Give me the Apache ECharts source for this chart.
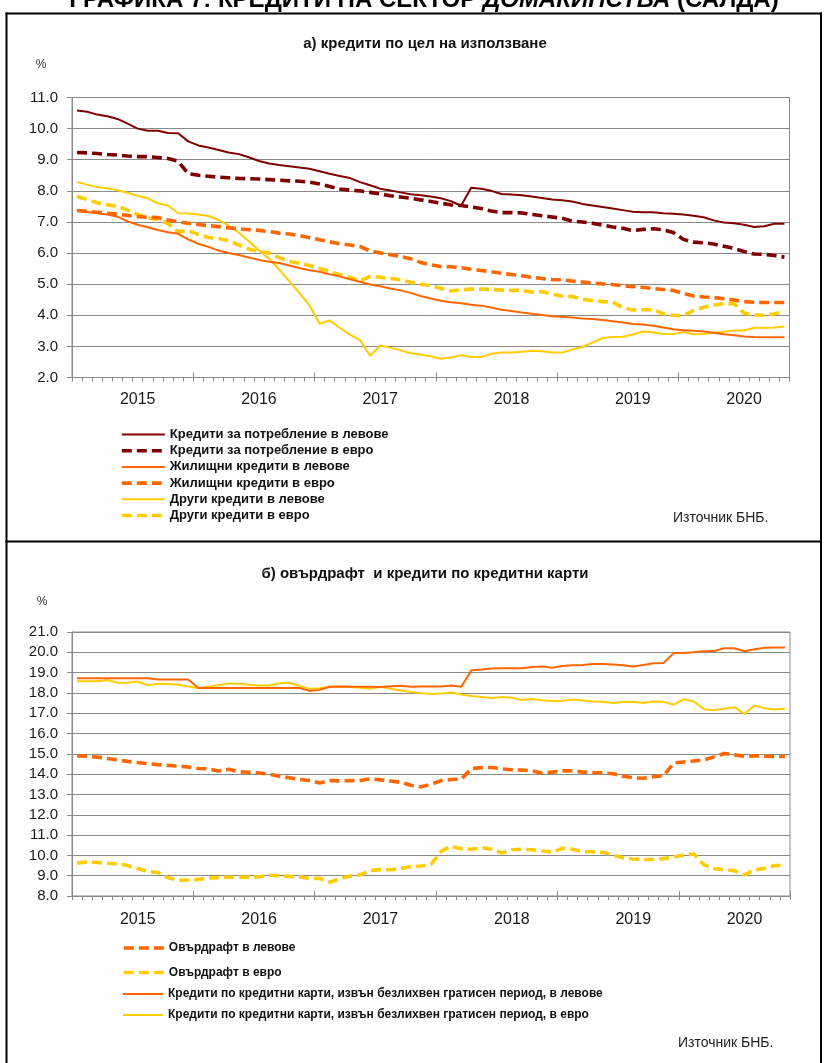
<!DOCTYPE html>
<html>
<head>
<meta charset="utf-8">
<script src="https://cdn.jsdelivr.net/npm/echarts@6/dist/echarts.min.js"></script>
<style>
html,body{margin:0;padding:0;background:#fff;}
#c{width:825px;height:1063px;}
</style>
</head>
<body>
<div id="c"></div>
<script>
// ---------- DATA ----------
const months = [
  '2015-01','2015-02','2015-03','2015-04','2015-05','2015-06','2015-07','2015-08','2015-09','2015-10','2015-11','2015-12',
  '2016-01','2016-02','2016-03','2016-04','2016-05','2016-06','2016-07','2016-08','2016-09','2016-10','2016-11','2016-12',
  '2017-01','2017-02','2017-03','2017-04','2017-05','2017-06','2017-07','2017-08','2017-09','2017-10','2017-11','2017-12',
  '2018-01','2018-02','2018-03','2018-04','2018-05','2018-06','2018-07','2018-08','2018-09','2018-10','2018-11','2018-12',
  '2019-01','2019-02','2019-03','2019-04','2019-05','2019-06','2019-07','2019-08','2019-09','2019-10','2019-11','2019-12',
  '2020-01','2020-02','2020-03','2020-04','2020-05','2020-06','2020-07','2020-08','2020-09','2020-10','2020-11'
];

// Panel a) loans by purpose (%)
const consumerBGN = [
  10.58,10.54,10.45,10.40,10.31,10.16,10.00,9.93,9.93,9.86,
  9.85,9.59,9.46,9.39,9.31,9.23,9.18,9.08,8.96,8.88,
  8.83,8.79,8.75,8.71,8.63,8.55,8.48,8.41,8.28,8.18,
  8.07,8.01,7.95,7.89,7.86,7.82,7.76,7.67,7.52,8.10,
  8.07,8.00,7.90,7.88,7.86,7.82,7.77,7.72,7.70,7.66,
  7.58,7.53,7.48,7.43,7.38,7.33,7.31,7.31,7.28,7.26,
  7.24,7.20,7.15,7.05,6.98,6.96,6.91,6.84,6.86,6.94,
  6.94
];
const consumerEUR = [
  9.23,9.22,9.20,9.17,9.15,9.12,9.10,9.10,9.07,9.04,
  8.95,8.55,8.50,8.47,8.44,8.42,8.40,8.39,8.38,8.36,
  8.34,8.32,8.31,8.28,8.22,8.14,8.06,8.02,8.00,7.95,
  7.90,7.84,7.80,7.76,7.71,7.66,7.60,7.55,7.53,7.48,
  7.43,7.35,7.30,7.30,7.29,7.24,7.20,7.16,7.12,7.03,
  7.00,6.96,6.90,6.84,6.80,6.72,6.76,6.78,6.75,6.66,
  6.44,6.35,6.33,6.29,6.22,6.15,6.05,5.97,5.96,5.92,
  5.87
];
const housingBGN = [
  7.37,7.32,7.28,7.24,7.17,7.02,6.91,6.83,6.74,6.67,
  6.62,6.44,6.30,6.20,6.08,6.00,5.94,5.86,5.78,5.72,
  5.68,5.60,5.52,5.45,5.40,5.32,5.25,5.16,5.08,4.99,
  4.93,4.86,4.80,4.72,4.62,4.54,4.47,4.42,4.39,4.34,
  4.31,4.25,4.18,4.14,4.09,4.05,4.01,3.97,3.95,3.93,
  3.90,3.88,3.85,3.81,3.77,3.72,3.70,3.66,3.61,3.55,
  3.52,3.50,3.48,3.44,3.39,3.36,3.32,3.30,3.29,3.29,
  3.29
];
const housingEUR = [
  7.37,7.34,7.31,7.28,7.25,7.21,7.17,7.15,7.14,7.06,
  7.00,6.96,6.92,6.88,6.85,6.81,6.78,6.75,6.73,6.69,
  6.64,6.61,6.56,6.49,6.43,6.36,6.30,6.26,6.21,6.07,
  6.00,5.95,5.89,5.82,5.70,5.62,5.57,5.56,5.53,5.48,
  5.44,5.40,5.35,5.31,5.27,5.22,5.18,5.15,5.14,5.10,
  5.07,5.04,5.01,4.99,4.95,4.92,4.90,4.86,4.83,4.80,
  4.70,4.62,4.59,4.57,4.53,4.49,4.44,4.42,4.41,4.41,
  4.41
];
const otherBGN = [
  8.28,8.20,8.12,8.08,8.02,7.94,7.84,7.76,7.60,7.53,
  7.28,7.27,7.24,7.19,7.07,6.88,6.66,6.38,6.08,5.82,
  5.47,5.10,4.72,4.32,3.73,3.83,3.60,3.38,3.20,2.70,
  3.03,2.96,2.88,2.78,2.74,2.68,2.60,2.64,2.72,2.66,
  2.66,2.76,2.80,2.80,2.83,2.86,2.84,2.80,2.80,2.90,
  2.98,3.12,3.27,3.30,3.31,3.38,3.48,3.45,3.40,3.40,
  3.46,3.39,3.40,3.43,3.47,3.51,3.51,3.60,3.60,3.61,
  3.64
];
const otherEUR = [
  7.82,7.72,7.62,7.55,7.50,7.38,7.24,7.13,7.08,6.95,
  6.68,6.72,6.60,6.50,6.47,6.40,6.26,6.13,6.04,6.00,
  5.85,5.73,5.67,5.60,5.50,5.42,5.30,5.22,5.10,5.25,
  5.22,5.18,5.14,5.06,5.00,4.95,4.87,4.78,4.82,4.84,
  4.84,4.83,4.81,4.80,4.80,4.75,4.76,4.68,4.62,4.60,
  4.52,4.47,4.44,4.42,4.25,4.17,4.18,4.18,4.05,4.00,
  3.99,4.15,4.26,4.33,4.37,4.37,4.07,4.01,4.00,4.05,
  4.12
];

// Panel b) overdraft and credit cards (%)
const overdraftBGN = [
  14.90,14.88,14.84,14.77,14.70,14.63,14.57,14.52,14.47,14.43,
  14.40,14.35,14.28,14.26,14.16,14.24,14.12,14.09,14.06,14.00,
  13.90,13.82,13.74,13.69,13.57,13.68,13.67,13.68,13.69,13.77,
  13.72,13.66,13.60,13.45,13.38,13.50,13.68,13.74,13.75,14.28,
  14.32,14.33,14.26,14.22,14.20,14.16,14.05,14.10,14.16,14.17,
  14.10,14.08,14.07,14.02,13.90,13.82,13.80,13.87,13.92,14.55,
  14.60,14.65,14.70,14.85,15.02,14.95,14.88,14.90,14.88,14.87,
  14.87
];
const overdraftEUR = [
  9.62,9.68,9.65,9.61,9.59,9.50,9.35,9.20,9.16,8.90,
  8.77,8.79,8.82,8.88,8.91,8.92,8.92,8.93,8.95,9.02,
  9.00,8.96,8.95,8.86,8.87,8.68,8.85,8.98,9.04,9.26,
  9.30,9.29,9.35,9.45,9.48,9.55,10.20,10.45,10.32,10.30,
  10.38,10.30,10.12,10.28,10.30,10.28,10.22,10.16,10.35,10.30,
  10.18,10.18,10.15,10.02,9.88,9.82,9.80,9.80,9.84,9.92,
  10.02,10.07,9.53,9.35,9.30,9.25,9.04,9.28,9.36,9.50,
  9.50
];
const cardsBGN = [
  18.72,18.72,18.72,18.72,18.72,18.72,18.72,18.72,18.66,18.66,
  18.66,18.66,18.24,18.24,18.24,18.24,18.24,18.24,18.24,18.24,
  18.24,18.24,18.24,18.10,18.15,18.30,18.32,18.30,18.30,18.30,
  18.29,18.33,18.35,18.30,18.32,18.32,18.32,18.36,18.30,19.12,
  19.15,19.20,19.22,19.22,19.22,19.28,19.30,19.24,19.33,19.36,
  19.37,19.42,19.42,19.40,19.36,19.30,19.38,19.46,19.47,19.96,
  19.97,20.00,20.05,20.06,20.20,20.20,20.05,20.15,20.22,20.24,
  20.24
];
const cardsEUR = [
  18.57,18.57,18.58,18.64,18.50,18.50,18.56,18.38,18.45,18.44,
  18.40,18.32,18.24,18.30,18.38,18.47,18.45,18.40,18.37,18.37,
  18.48,18.50,18.34,18.20,18.23,18.30,18.31,18.29,18.25,18.20,
  18.30,18.20,18.12,18.04,17.99,17.95,17.97,18.02,17.92,17.85,
  17.80,17.75,17.80,17.76,17.65,17.70,17.64,17.60,17.62,17.68,
  17.63,17.58,17.56,17.50,17.55,17.56,17.50,17.58,17.56,17.42,
  17.69,17.58,17.20,17.15,17.22,17.30,16.97,17.38,17.25,17.18,
  17.22
];

const seriesNamesA = [
  'Кредити за потребление в левове',
  'Кредити за потребление в евро',
  'Жилищни кредити в левове',
  'Жилищни кредити в евро',
  'Други кредити в левове',
  'Други кредити в евро'
];
const seriesNamesB = [
  'Овърдрафт в левове',
  'Овърдрафт в евро',
  'Кредити по кредитни карти, извън безлихвен гратисен период, в левове',
  'Кредити по кредитни карти, извън безлихвен гратисен период, в евро'
];

// ---------- STYLE / LAYOUT ----------
const FONT = '"Liberation Sans", Arial, sans-serif';
const GRAY = '#8a8a8a';
const MAROON = '#800000', ORANGE = '#FF6600', YELLOW = '#FFCC00';
const yearLabelIdx = [6, 18, 30, 43, 55, 66];

function xAxes(gridIndex, labelMargin) {
  return [
    {
      type: 'category', gridIndex: gridIndex, data: months, boundaryGap: true, position: 'bottom',
      axisLine: {show: true, lineStyle: {color: GRAY, width: 1}},
      axisTick: {show: true, interval: 0, length: 4, lineStyle: {color: GRAY}},
      axisLabel: {show: false}, splitLine: {show: false}
    },
    {
      type: 'category', gridIndex: gridIndex, data: months, boundaryGap: true, position: 'bottom',
      axisLine: {show: false},
      axisTick: {show: true, inside: true, length: 5, interval: function (i) { return i % 12 === 0; }, lineStyle: {color: GRAY}},
      axisLabel: {
        show: true, interval: function (i) { return yearLabelIdx.indexOf(i) >= 0; },
        formatter: function (v) { return v.slice(0, 4); },
        margin: labelMargin, fontSize: 16, color: '#1a1a1a', fontFamily: FONT
      },
      splitLine: {show: false}
    }
  ];
}
function yAxis(gridIndex, min, max) {
  return {
    type: 'value', gridIndex: gridIndex, min: min, max: max, interval: 1,
    axisLine: {show: true, lineStyle: {color: GRAY, width: 1}},
    axisTick: {show: true, length: 5, lineStyle: {color: GRAY}},
    axisLabel: {formatter: function (v) { return v.toFixed(1); }, fontSize: 15, color: '#1a1a1a', margin: 14, fontFamily: FONT},
    splitLine: {show: true, lineStyle: {color: GRAY, width: 1}}
  };
}
function line(name, data, color, dashed, xi, yi) {
  return {
    type: 'line', name: name, data: data, xAxisIndex: xi, yAxisIndex: yi,
    symbol: 'none', showSymbol: false, smooth: false, silent: true,
    lineStyle: {color: color, width: dashed ? 3.6 : 2, type: dashed ? [10, 5] : 'solid', cap: 'butt'},
    itemStyle: {color: color},
    emphasis: {disabled: true}
  };
}
const legendText = {fontSize: 13, fontWeight: 'bold', color: '#111', fontFamily: FONT, lineHeight: 12};
const legendTextB = {fontSize: 12, fontWeight: 'bold', color: '#111', fontFamily: FONT, lineHeight: 12};
const noSymbol = {opacity: 0, borderWidth: 0};
const legendLine = {width: 'inherit', type: 'inherit', color: 'inherit'};
function legendB(name, top) {
  return {orient: 'vertical', left: 122, top: top, itemWidth: 40, itemHeight: 12, padding: 0,
    selectedMode: false, data: [name], textStyle: legendTextB, itemStyle: noSymbol, lineStyle: legendLine};
}

const chart = echarts.init(document.getElementById('c'), null, {renderer: 'canvas'});
chart.setOption({
  animation: false,
  backgroundColor: '#ffffff',
  textStyle: {fontFamily: FONT},
  title: [
    {text: '{n|ГРАФИКА 7: КРЕДИТИ НА СЕКТОР }{i|ДОМАКИНСТВА}{n| (САЛДА)}', left: 424, textAlign: 'center', top: -12, padding: 0,
      textStyle: {rich: {
        n: {fontSize: 24, fontWeight: 'bold', fontFamily: FONT, color: '#000'},
        i: {fontSize: 24, fontWeight: 'bold', fontStyle: 'italic', fontFamily: FONT, color: '#000'}
      }}},
    {text: 'а) кредити по цел на използване', left: 425, textAlign: 'center', top: 36, padding: 0,
      textStyle: {fontSize: 15, fontWeight: 'bold', color: '#111', fontFamily: FONT}},
    {text: '%', left: 41, textAlign: 'center', top: 59, padding: 0,
      textStyle: {fontSize: 12, fontWeight: 'normal', color: '#333', fontFamily: FONT}},
    {text: 'Източник БНБ.', left: 673, top: 511, padding: 0,
      textStyle: {fontSize: 14, fontWeight: 'normal', color: '#222', fontFamily: FONT}},
    {text: 'б) овърдрафт  и кредити по кредитни карти', left: 425, textAlign: 'center', top: 566, padding: 0,
      textStyle: {fontSize: 15, fontWeight: 'bold', color: '#111', fontFamily: FONT}},
    {text: '%', left: 42, textAlign: 'center', top: 596, padding: 0,
      textStyle: {fontSize: 12, fontWeight: 'normal', color: '#333', fontFamily: FONT}},
    {text: 'Източник БНБ.', left: 678, top: 1036, padding: 0,
      textStyle: {fontSize: 14, fontWeight: 'normal', color: '#222', fontFamily: FONT}}
  ],
  legend: [
    {orient: 'vertical', left: 120, top: 428, itemWidth: 43, itemHeight: 12, itemGap: 3.2, padding: 0,
      selectedMode: false, data: seriesNamesA, textStyle: legendText, itemStyle: noSymbol, lineStyle: legendLine},
    legendB(seriesNamesB[0], 942),
    legendB(seriesNamesB[1], 966.5),
    legendB(seriesNamesB[2], 988),
    legendB(seriesNamesB[3], 1009)
  ],
  grid: [
    {left: 72, top: 97.5, width: 717.5, height: 280, show: true, borderColor: GRAY, borderWidth: 1, backgroundColor: 'transparent', outerBoundsMode: 'none', containLabel: false},
    {left: 72, top: 632, width: 718, height: 264, show: true, borderColor: GRAY, borderWidth: 1, backgroundColor: 'transparent', outerBoundsMode: 'none', containLabel: false}
  ],
  xAxis: xAxes(0, 14).concat(xAxes(1, 16)),
  yAxis: [yAxis(0, 2, 11), yAxis(1, 8, 21)],
  series: [
    line(seriesNamesA[4], otherBGN, YELLOW, false, 0, 0),
    line(seriesNamesA[5], otherEUR, YELLOW, true, 0, 0),
    line(seriesNamesA[2], housingBGN, ORANGE, false, 0, 0),
    line(seriesNamesA[3], housingEUR, ORANGE, true, 0, 0),
    line(seriesNamesA[0], consumerBGN, MAROON, false, 0, 0),
    line(seriesNamesA[1], consumerEUR, MAROON, true, 0, 0),
    line(seriesNamesB[3], cardsEUR, YELLOW, false, 2, 1),
    line(seriesNamesB[2], cardsBGN, ORANGE, false, 2, 1),
    line(seriesNamesB[1], overdraftEUR, YELLOW, true, 2, 1),
    line(seriesNamesB[0], overdraftBGN, ORANGE, true, 2, 1)
  ],
  graphic: [
    {type: 'line', silent: true, shape: {x1: 5.5, y1: 13.5, x2: 822, y2: 13.5}, style: {stroke: '#000', lineWidth: 2}},
    {type: 'line', silent: true, shape: {x1: 6.5, y1: 12.5, x2: 6.5, y2: 1063}, style: {stroke: '#000', lineWidth: 2}},
    {type: 'line', silent: true, shape: {x1: 5.5, y1: 541.5, x2: 822, y2: 541.5}, style: {stroke: '#000', lineWidth: 2}},
    {type: 'line', silent: true, shape: {x1: 821, y1: 12.5, x2: 821, y2: 1063}, style: {stroke: '#000', lineWidth: 2}}
  ]
});
</script>
</body>
</html>
